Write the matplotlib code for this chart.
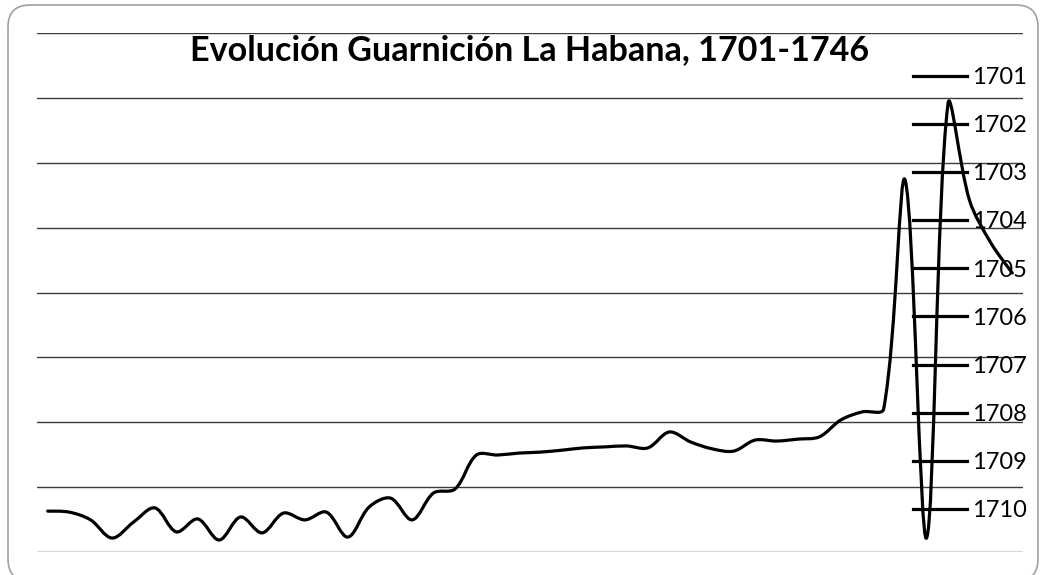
import numpy as np
import matplotlib
matplotlib.use('Agg')
import matplotlib.pyplot as plt
from matplotlib.path import Path
from matplotlib.patches import PathPatch, FancyBboxPatch
from matplotlib.lines import Line2D
from matplotlib.transforms import IdentityTransform

plt.rcParams['font.family'] = ['Lato', 'DejaVu Sans']

# ---------- Data ----------
years = list(range(1701, 1747))
garrison = [126, 123, 99, 43, 92, 136, 62, 102, 37, 108,
            59, 120, 99, 123, 46, 139, 166, 99, 182, 194,
            299, 299, 305, 308, 314, 321, 324, 327, 321, 370,
            339, 318, 311, 345, 342, 348, 355, 407, 432, 441,
            1147, 43, 1381, 1085, 953, 860]
legend_labels = [str(y) for y in range(1701, 1711)]

title = 'Evolución Guarnición La Habana, 1701-1746'


def smooth_path(ax, x, y, t=1 / 3):
    """Excel-like smoothed line: Bezier through every point, tangents
    weighted by segment length (in pixels) to limit overshoot."""
    pts = ax.transData.transform(np.column_stack([x, y]).astype(float))
    n = len(pts)
    verts = [pts[0]]
    codes = [Path.MOVETO]
    d = np.hypot(*np.diff(pts, axis=0).T)
    for i in range(n - 1):
        p0 = pts[i - 1] if i > 0 else pts[i]
        p1, p2 = pts[i], pts[i + 1]
        p3 = pts[i + 2] if i + 2 < n else pts[i + 1]
        d01 = d[i - 1] if i > 0 else d[i]
        d12 = d[i]
        d23 = d[i + 1] if i + 1 < n - 1 else d[i]
        c1 = p1 + (p2 - p0) * t * d12 / (d01 + d12)
        c2 = p2 - (p3 - p1) * t * d12 / (d12 + d23)
        verts += [c1, c2, p2]
        codes += [Path.CURVE4] * 3
    verts = ax.transData.inverted().transform(np.array(verts))
    return Path(verts, codes)


W, H = 1042, 575
fig = plt.figure(figsize=(W / 100, H / 100), dpi=100)

# rounded chart border (pixel coords, y from bottom)
fig.patches.append(FancyBboxPatch((8, -6), 1030, 576,
                                  boxstyle='round,pad=0,rounding_size=22',
                                  transform=IdentityTransform(), fill=False,
                                  edgecolor='#a0a0a0', lw=1.2, zorder=0))

ax = fig.add_axes([37 / W, (H - 552) / H, 986 / W, 519 / H])
x = np.arange(len(years))
ax.set_xlim(-0.5, len(years) - 0.5)
ax.set_ylim(0, 1600)
ax.add_patch(PathPatch(smooth_path(ax, x, garrison), fill=False, edgecolor='black',
                       lw=2.3, capstyle='round', joinstyle='round', zorder=3))

ax.set_yticks(np.arange(0, 1601, 200))
ax.yaxis.grid(True, color='#3c3c3c', lw=1.0)
ax.set_axisbelow(True)
ax.tick_params(left=False, bottom=False, labelleft=False, labelbottom=False)
for s in ax.spines.values():
    s.set_visible(False)

handles = [Line2D([], [], color='black', lw=2.3) for _ in legend_labels]
fig.legend(handles, legend_labels, loc='upper left',
           bbox_to_anchor=(913 / W, 1 - 67 / H), frameon=False,
           fontsize=17, handlelength=2.29, handletextpad=0.21,
           labelspacing=1.15, borderpad=0, borderaxespad=0)

fig.text(530 / W, 1 - 60 / H, title, ha='center', va='baseline',
         fontsize=24.6, fontweight='bold')

fig.savefig('out.png', dpi=100)
